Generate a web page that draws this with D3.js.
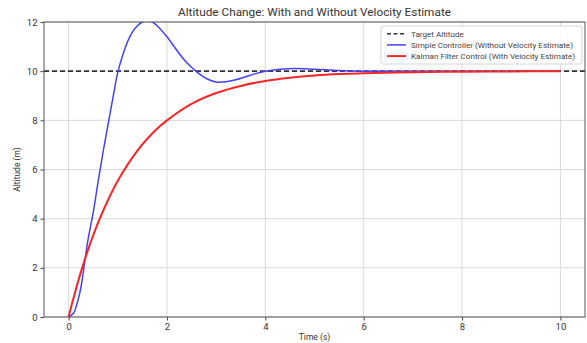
<!DOCTYPE html>
<html>
<head>
<meta charset="utf-8">
<script src="https://cdn.jsdelivr.net/npm/d3@7"></script>
<style>
  body { margin: 0; background: #fff; }
  svg text { font-family: Roboto, "Open Sans", sans-serif; fill: #333; }
</style>
</head>
<body>
<div id="chart"></div>
<script>
// --- data ---
const simpleTimes = [0, 0.1, 0.15, 0.2, 0.25, 0.3, 0.35, 0.4, 0.5, 0.6, 0.7, 0.8, 0.9, 1.0, 1.1, 1.2, 1.3, 1.4, 1.5, 1.6, 1.7, 1.8, 2.0, 2.2, 2.4, 2.6, 2.8, 3.0, 3.2, 3.4, 3.6, 3.8, 4.0, 4.3, 4.6, 5.0, 5.5, 6.0, 7.0, 8.0, 9.0, 10.0];
const simpleAlt   = [0, 0.15, 0.4, 0.75, 1.2, 1.85, 2.55, 3.2, 4.25, 5.5, 6.7, 7.8, 8.9, 9.95, 10.65, 11.2, 11.6, 11.85, 12.0, 12.05, 12.0, 11.85, 11.4, 10.85, 10.35, 9.98, 9.7, 9.56, 9.57, 9.65, 9.77, 9.9, 10.0, 10.08, 10.11, 10.08, 10.03, 10.0, 10.0, 10.0, 10.0, 10.0];

const kalmanTimes = [0, 0.1, 0.2, 0.3, 0.4, 0.5, 0.6, 0.8, 1.0, 1.2, 1.4, 1.6, 1.8, 2.0, 2.5, 3.0, 3.5, 4.0, 4.5, 5.0, 5.5, 6.0, 7.0, 8.0, 9.0, 10.0];
const kalmanAlt   = [0, 0.77, 1.49, 2.15, 2.76, 3.32, 3.84, 4.75, 5.54, 6.2, 6.77, 7.25, 7.66, 8.0, 8.67, 9.11, 9.4, 9.6, 9.73, 9.82, 9.88, 9.92, 9.96, 9.98, 9.99, 10.0];

const targetAltitude = 10;
const xTicks = [0, 2, 4, 6, 8, 10];
const yTicks = [0, 2, 4, 6, 8, 10, 12];
const legendLabels = ['Target Altitude', 'Simple Controller (Without Velocity Estimate)', 'Kalman Filter Control (With Velocity Estimate)'];

const W = 587, H = 343;
const margin = { top: 22, right: 2, bottom: 26, left: 44 };
const width = W - margin.left - margin.right;
const height = H - margin.top - margin.bottom;

const svgRoot = d3.select('#chart').append('svg')
    .attr('width', W)
    .attr('height', H);

const svg = svgRoot.append('g')
    .attr('transform', `translate(${margin.left}, ${margin.top})`);

const x = d3.scaleLinear().domain([-0.5, 10.5]).range([0, width]);
const y = d3.scaleLinear().domain([0, 12]).range([height, 0]);

// grid
svg.append('g').selectAll('line').data(xTicks).join('line')
    .attr('x1', d => x(d)).attr('x2', d => x(d))
    .attr('y1', 0).attr('y2', height)
    .style('stroke', '#d9d9d9').style('stroke-width', 1);
svg.append('g').selectAll('line').data(yTicks).join('line')
    .attr('x1', 0).attr('x2', width)
    .attr('y1', d => y(d)).attr('y2', d => y(d))
    .style('stroke', '#d9d9d9').style('stroke-width', 1);

// clip
svgRoot.append('defs').append('clipPath').attr('id', 'plot-clip')
    .append('rect').attr('width', width).attr('height', height);

const plot = svg.append('g').attr('clip-path', 'url(#plot-clip)');

// target
plot.append('line')
    .attr('x1', 0).attr('x2', width)
    .attr('y1', y(targetAltitude)).attr('y2', y(targetAltitude))
    .style('stroke', '#333').style('stroke-width', 1.6)
    .style('stroke-dasharray', '5,3');

const line = d3.line()
    .x(d => x(d[0]))
    .y(d => y(d[1]))
    .curve(d3.curveCatmullRom.alpha(0.5));

plot.append('path')
    .datum(simpleTimes.map((t, i) => [t, simpleAlt[i]]))
    .attr('d', line)
    .style('fill', 'none').style('stroke', '#4343f5').style('stroke-width', 1.5);

plot.append('path')
    .datum(kalmanTimes.map((t, i) => [t, kalmanAlt[i]]))
    .attr('d', line)
    .style('fill', 'none').style('stroke', '#f72626').style('stroke-width', 2);

// axes
const xAxis = d3.axisBottom(x).tickValues(xTicks).tickSize(3.5).tickPadding(3).tickFormat(d3.format('d'));
const yAxis = d3.axisLeft(y).tickValues(yTicks).tickSize(3.5).tickPadding(3).tickFormat(d3.format('d'));

const gx = svg.append('g').attr('transform', `translate(0, ${height})`).call(xAxis);
const gy = svg.append('g').call(yAxis);
[gx, gy].forEach(g => {
    g.select('.domain').remove();
    g.selectAll('line').style('stroke', '#444');
    g.selectAll('text').style('font-size', '9.5px').style('fill', '#333');
});

// frame
svg.append('rect')
    .attr('width', width).attr('height', height)
    .style('fill', 'none').style('stroke', '#555').style('stroke-width', 1);

// title and labels
svgRoot.append('text')
    .attr('x', margin.left + width / 2).attr('y', 16)
    .style('text-anchor', 'middle').style('font-size', '11.8px')
    .text('Altitude Change: With and Without Velocity Estimate');

svgRoot.append('text')
    .attr('x', margin.left + width / 2).attr('y', 340)
    .style('text-anchor', 'middle').style('font-size', '8.5px')
    .text('Time (s)');

svgRoot.append('text')
    .attr('transform', `translate(20, ${margin.top + height / 2}) rotate(-90)`)
    .style('text-anchor', 'middle').style('font-size', '8.5px')
    .text('Altitude (m)');

// legend
const legend = svgRoot.append('g').attr('transform', 'translate(381, 26)');
legend.append('rect')
    .attr('width', 201).attr('height', 38).attr('rx', 2)
    .style('fill', '#fff').style('fill-opacity', 0.85)
    .style('stroke', '#ccc').style('stroke-width', 0.8);

const legendStyles = [
    { color: '#333', width: 1.6, dash: '4,2.5' },
    { color: '#4343f5', width: 1.5, dash: null },
    { color: '#f72626', width: 2, dash: null }
];
const item = legend.selectAll('.item').data(legendLabels).join('g')
    .attr('class', 'item')
    .attr('transform', (d, i) => `translate(0, ${7.7 + i * 11.2})`);
item.append('line')
    .attr('x1', 6).attr('x2', 25)
    .style('stroke', (d, i) => legendStyles[i].color)
    .style('stroke-width', (d, i) => legendStyles[i].width)
    .style('stroke-dasharray', (d, i) => legendStyles[i].dash);
item.append('text')
    .attr('x', 30).attr('dy', '0.35em')
    .style('font-size', '8.1px').style('fill', '#444')
    .text(d => d);
</script>
</body>
</html>
